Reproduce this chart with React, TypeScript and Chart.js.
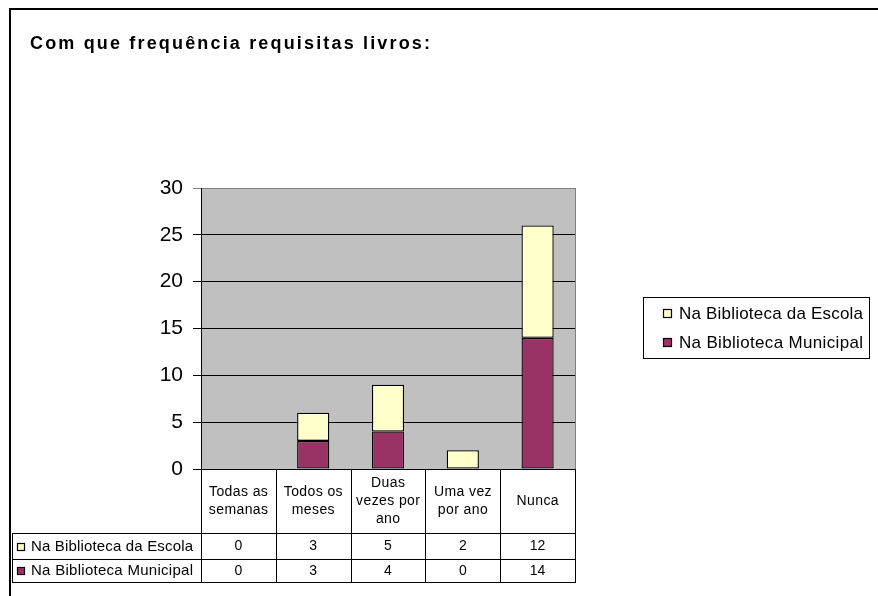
import React, { useEffect, useRef } from 'react';
import { Chart, registerables } from 'chart.js';

Chart.register(...registerables);

const titleText = 'Com que frequência requisitas livros:';
const categories: string[][] = [
  ['Todas as', 'semanas'],
  ['Todos os', 'meses'],
  ['Duas', 'vezes por', 'ano'],
  ['Uma vez', 'por ano'],
  ['Nunca'],
];
const seriesNames = ['Na Biblioteca da Escola', 'Na Biblioteca Municipal'];
const escola = [0, 3, 5, 2, 12];
const municipal = [0, 3, 4, 0, 14];
const yMin = 0;
const yMax = 30;
const yStep = 5;

const COLOR_ESCOLA = '#FFFFCC';
const COLOR_MUNICIPAL = '#993366';
const PLOT_BG = '#C0C0C0';
const FONT = '"Liberation Sans", Arial, Helvetica, sans-serif';

function fitText(
  ctx: CanvasRenderingContext2D,
  text: string,
  x: number,
  y: number,
  target: number,
  align: 'left' | 'center' | 'right' = 'left'
) {
  (ctx as any).letterSpacing = '0px';
  const w = ctx.measureText(text).width;
  const s = text.length > 1 ? (target - w) / (text.length - 1) : 0;
  (ctx as any).letterSpacing = s + 'px';
  ctx.textAlign = 'left';
  let sx = x;
  if (align === 'center') sx = x - target / 2;
  if (align === 'right') sx = x - target;
  ctx.fillText(text, sx, y);
  (ctx as any).letterSpacing = '0px';
}

function spacedCenter(ctx: CanvasRenderingContext2D, text: string, cx: number, y: number, spacing: number) {
  (ctx as any).letterSpacing = '0px';
  const w = ctx.measureText(text).width + spacing * (text.length - 1);
  (ctx as any).letterSpacing = spacing + 'px';
  ctx.textAlign = 'left';
  ctx.fillText(text, cx - w / 2, y);
  (ctx as any).letterSpacing = '0px';
}

const decorPlugin = {
  id: 'decor',
  beforeDraw(chart: any) {
    const { ctx, chartArea } = chart;
    ctx.save();
    ctx.fillStyle = '#ffffff';
    ctx.fillRect(0, 0, chart.width, chart.height);
    ctx.fillStyle = PLOT_BG;
    ctx.fillRect(chartArea.left, chartArea.top, chartArea.right - chartArea.left, chartArea.bottom - chartArea.top);
    ctx.restore();
  },
  afterDraw(chart: any) {
    const { ctx, chartArea } = chart;
    const xScale = chart.scales.x;
    ctx.save();

    // plot area gray border (right side)
    ctx.strokeStyle = '#808080';
    ctx.lineWidth = 1;
    ctx.beginPath();
    ctx.moveTo(chartArea.right + 0.5, chartArea.top);
    ctx.lineTo(chartArea.right + 0.5, chartArea.bottom);
    ctx.stroke();

    // outer frame (top and left edges visible)
    ctx.strokeStyle = '#000000';
    ctx.lineWidth = 2;
    ctx.beginPath();
    ctx.moveTo(10, chart.height + 2);
    ctx.lineTo(10, 9);
    ctx.lineTo(chart.width + 2, 9);
    ctx.stroke();

    // title
    ctx.fillStyle = '#000000';
    ctx.font = `bold 18px ${FONT}`;
    ctx.textBaseline = 'alphabetic';
    fitText(ctx, titleText, 30, 49, 400, 'left');

    // data table
    const n = categories.length;
    const left = chartArea.left;
    const right = chartArea.right;
    const catW = (right - left) / n;
    const headTop = chartArea.bottom;
    const headBottom = 533;
    const row1Bottom = 559;
    const row2Bottom = 582;
    const tableLeft = 12;

    ctx.strokeStyle = '#000000';
    ctx.lineWidth = 1;
    ctx.beginPath();
    for (let i = 0; i <= n; i++) {
      const x = Math.round(left + i * catW) + 0.5;
      ctx.moveTo(x, headTop);
      ctx.lineTo(x, row2Bottom);
    }
    ctx.moveTo(tableLeft + 0.5, headBottom);
    ctx.lineTo(tableLeft + 0.5, row2Bottom);
    [headBottom, row1Bottom, row2Bottom].forEach((y) => {
      ctx.moveTo(tableLeft, y + 0.5);
      ctx.lineTo(right + 1, y + 0.5);
    });
    ctx.stroke();

    // header labels
    ctx.fillStyle = '#000000';
    ctx.font = `14px ${FONT}`;
    ctx.textBaseline = 'middle';
    const headMid = (headTop + headBottom) / 2;
    const lh = 18;
    categories.forEach((lines, i) => {
      const cx = xScale.getPixelForValue(i);
      const start = headMid - ((lines.length - 1) * lh) / 2;
      lines.forEach((line, j) => {
        spacedCenter(ctx, line, cx, start + j * lh, 0.4);
      });
    });

    // rows
    const rows = [
      { name: seriesNames[0], data: escola, color: COLOR_ESCOLA, y: (headBottom + row1Bottom) / 2 + 0.5 },
      { name: seriesNames[1], data: municipal, color: COLOR_MUNICIPAL, y: (row1Bottom + row2Bottom) / 2 + 0.5 },
    ];
    rows.forEach((r) => {
      ctx.fillStyle = r.color;
      ctx.fillRect(17.5, Math.round(r.y) - 4 + 0.5, 7, 7);
      ctx.strokeStyle = '#000000';
      ctx.lineWidth = 1.2;
      ctx.strokeRect(17.5, Math.round(r.y) - 4 + 0.5, 7, 7);
      ctx.fillStyle = '#000000';
      ctx.font = `15px ${FONT}`;
      ctx.textBaseline = 'middle';
      fitText(ctx, r.name, 31, r.y, 162, 'left');
      ctx.font = `14px ${FONT}`;
      r.data.forEach((v, i) => {
        spacedCenter(ctx, String(v), xScale.getPixelForValue(i), r.y, 0);
      });
    });

    // legend
    const lgL = 643, lgT = 297, lgR = 869, lgB = 358;
    ctx.fillStyle = '#ffffff';
    ctx.fillRect(lgL, lgT, lgR - lgL, lgB - lgT);
    ctx.strokeStyle = '#000000';
    ctx.lineWidth = 1;
    ctx.strokeRect(lgL + 0.5, lgT + 0.5, lgR - lgL, lgB - lgT);
    const legendItems = [
      { name: seriesNames[0], color: COLOR_ESCOLA, y: 313 },
      { name: seriesNames[1], color: COLOR_MUNICIPAL, y: 342 },
    ];
    legendItems.forEach((it) => {
      ctx.fillStyle = it.color;
      ctx.fillRect(663.5, it.y - 4 + 0.5, 8, 8);
      ctx.strokeStyle = '#000000';
      ctx.lineWidth = 1.2;
      ctx.strokeRect(663.5, it.y - 4 + 0.5, 8, 8);
      ctx.fillStyle = '#000000';
      ctx.font = `17px ${FONT}`;
      ctx.textBaseline = 'middle';
      fitText(ctx, it.name, 679, it.y + 1, 184, 'left');
    });

    ctx.restore();
  },
};

export default function App() {
  const ref = useRef<HTMLCanvasElement | null>(null);

  useEffect(() => {
    if (!ref.current) return;
    const chart = new Chart(ref.current, {
      type: 'bar',
      data: {
        labels: categories.map((c) => c.join(' ')),
        datasets: [
          {
            label: seriesNames[1],
            data: municipal,
            backgroundColor: COLOR_MUNICIPAL,
            borderColor: '#000000',
            borderWidth: 1.3,
            borderSkipped: false,
          },
          {
            label: seriesNames[0],
            data: escola,
            backgroundColor: COLOR_ESCOLA,
            borderColor: '#000000',
            borderWidth: 1.3,
            borderSkipped: false,
          },
        ],
      },
      options: {
        animation: false,
        responsive: false,
        maintainAspectRatio: false,
        devicePixelRatio: 1,
        layout: { padding: { left: 0, top: 188, right: 303, bottom: 127 } },
        datasets: { bar: { barPercentage: 0.43, categoryPercentage: 1 } },
        plugins: {
          legend: { display: false },
          title: { display: false },
          tooltip: { enabled: false },
        },
        scales: {
          x: {
            display: false,
            stacked: true,
          },
          y: {
            stacked: true,
            min: yMin,
            max: yMax,
            afterFit: (scale: any) => {
              scale.width = 201;
            },
            ticks: {
              stepSize: yStep,
              color: '#000000',
              padding: 10,
              font: { family: FONT, size: 21 },
            },
            grid: {
              color: (c: any) => (c.tick && c.tick.value === yMax ? '#808080' : '#000000'),
              lineWidth: 1,
              tickLength: 8,
              drawTicks: true,
            },
            border: { display: true, color: '#000000', width: 1 },
          },
        },
      },
      plugins: [decorPlugin],
    });
    return () => chart.destroy();
  }, []);

  return (
    <div style={{ position: 'fixed', left: 0, top: 0, width: 878, height: 596 }}>
      <canvas ref={ref} width={878} height={596} style={{ width: 878, height: 596, display: 'block' }} />
    </div>
  );
}
